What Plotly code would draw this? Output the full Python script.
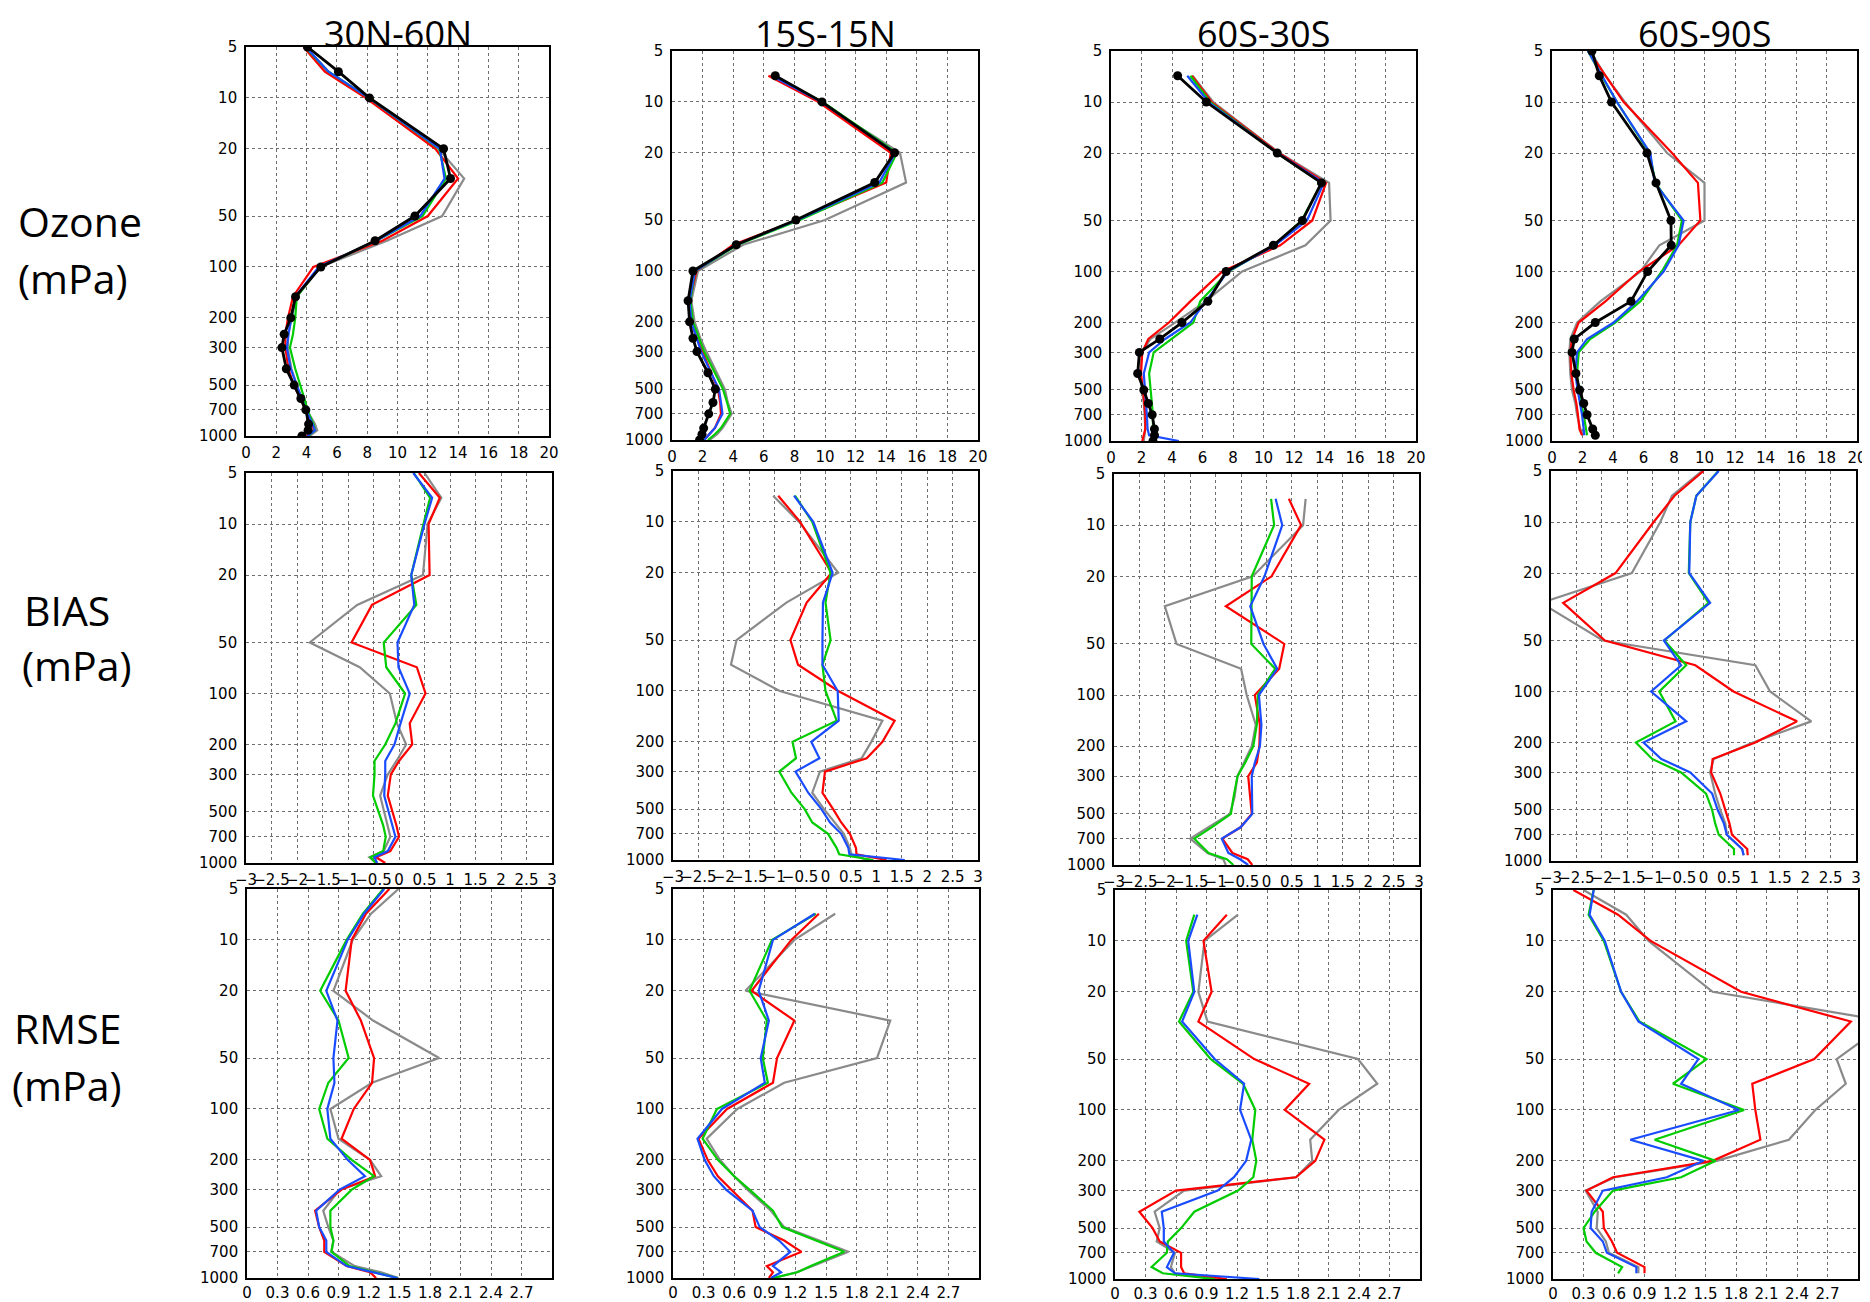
import plotly.graph_objects as go

W, H = 1870, 1302          # reference pixel frame
OFF = 8                    # page body margin
FW, FH = W - OFF, H - OFF  # figure reaches the right/bottom edge of the window

# ---------------- data ----------------
LEV_FULL = [5, 7, 10, 20, 30, 50, 70, 100, 150, 200, 250, 300, 400, 500, 600, 700, 850, 925, 1000]
LEV_FROM7 = LEV_FULL[1:]
LEV_TO925 = LEV_FULL[:-1]

REGIONS = ["30N-60N", "15S-15N", "60S-30S", "60S-90S"]
ROW_LABELS = [("Ozone", "(mPa)"), ("BIAS", "(mPa)"), ("RMSE", "(mPa)")]

OZ_TICKS = [0, 2, 4, 6, 8, 10, 12, 14, 16, 18, 20]
BIAS_TICKS = [-3, -2.5, -2, -1.5, -1, -0.5, 0, 0.5, 1, 1.5, 2, 2.5, 3]
RMSE_TICKS = [0, 0.3, 0.6, 0.9, 1.2, 1.5, 1.8, 2.1, 2.4, 2.7]
P_TICKS = [5, 10, 20, 50, 100, 200, 300, 500, 700, 1000]

# Ozone 30N-60N
OZ1_BLACK = [4.06, 6.1, 8.15, 13.04, 13.5, 11.15, 8.52, 4.94, 3.27, 2.96, 2.52, 2.37, 2.66, 3.18, 3.62, 3.95, 4.13, 4.1, 3.69]
OZ1_RED = [3.8, 5.2, 7.9, 12.5, 14.0, 12.0, 9.0, 4.45, 3.1, 2.77, 2.6, 2.6, 2.8, 3.15, 3.6, 3.9, 4.35, 4.5, 4.0]
OZ1_GREEN = [3.9, 5.45, 8.1, 12.75, 13.2, 11.65, 8.6, 4.85, 3.35, 3.25, 3.1, 2.9, 3.25, 3.6, 3.85, 4.05, 4.45, 4.55, 4.1]
OZ1_BLUE = [3.95, 5.45, 8.1, 12.8, 13.1, 11.5, 8.6, 4.8, 3.25, 3.0, 2.8, 2.7, 2.95, 3.35, 3.7, 3.95, 4.4, 4.55, 4.05]
OZ1_GRAY = [3.9, 5.3, 8.0, 12.7, 14.4, 12.95, 9.3, 4.9, 3.35, 3.0, 2.8, 2.75, 3.0, 3.35, 3.7, 4.0, 4.55, 4.7, 4.2]

# Ozone 15S-15N (from 7 hPa)
OZ2_BLACK = [6.75, 9.8, 14.55, 13.25, 8.1, 4.2, 1.37, 1.05, 1.15, 1.37, 1.63, 2.35, 2.83, 2.68, 2.4, 2.07, 1.96, 1.8]
OZ2_RED = [6.3, 9.55, 14.3, 14.0, 8.2, 4.0, 1.6, 1.15, 1.26, 1.63, 2.0, 2.55, 3.0, 3.15, 3.2, 2.8, 2.45, 2.1]
OZ2_GREEN = [6.6, 9.85, 14.7, 13.75, 8.35, 4.3, 1.5, 1.2, 1.37, 1.8, 2.1, 2.8, 3.33, 3.6, 3.8, 3.2, 2.8, 2.35]
OZ2_BLUE = [6.5, 9.75, 14.6, 13.55, 8.2, 4.2, 1.5, 1.15, 1.26, 1.6, 1.9, 2.55, 3.07, 3.2, 3.3, 2.8, 2.4, 2.1]
OZ2_GRAY = [6.4, 9.65, 14.9, 15.3, 10.0, 4.65, 1.7, 1.26, 1.48, 1.85, 2.25, 2.9, 3.45, 3.65, 3.9, 3.3, 2.95, 2.45]

# Ozone 60S-30S (from 7 hPa)
OZ3_BLACK = [4.37, 6.25, 10.9, 13.8, 12.55, 10.65, 7.55, 6.35, 4.65, 3.2, 1.86, 1.75, 2.15, 2.45, 2.7, 2.85, 2.85, 2.75]
OZ3_RED = [5.3, 6.6, 11.0, 14.1, 13.2, 11.1, 7.3, 5.2, 3.8, 2.45, 2.05, 1.97, 2.1, 2.2, 2.25, 2.25, 2.15, 2.05]
OZ3_GREEN = [5.2, 6.5, 10.9, 13.8, 12.5, 10.7, 7.7, 5.85, 5.4, 4.0, 2.8, 2.5, 2.6, 2.65, 2.75, 2.75, 2.8, 2.75]
OZ3_BLUE = [5.0, 6.4, 10.9, 13.95, 12.85, 10.75, 7.65, 6.2, 5.2, 3.55, 2.5, 2.15, 2.25, 2.3, 2.35, 2.4, 2.5, 4.45]
OZ3_GRAY = [5.35, 6.7, 11.05, 14.3, 14.4, 12.75, 8.6, 6.2, 4.2, 2.6, 2.0, 1.93, 2.03, 2.15, 2.2, 2.25, 2.2, 2.15]

# Ozone 60S-90S (to 925 hPa)
OZ4_BLACK = [2.62, 3.1, 3.9, 6.23, 6.82, 7.8, 7.82, 6.27, 5.18, 2.84, 1.46, 1.31, 1.57, 1.81, 2.08, 2.3, 2.67, 2.84]
OZ4_RED = [2.4, 3.5, 4.7, 7.87, 9.57, 9.73, 8.3, 5.7, 3.5, 1.75, 1.31, 1.2, 1.27, 1.42, 1.6, 1.7, 1.8, 1.97]
OZ4_GREEN = [2.36, 3.24, 4.26, 6.4, 6.78, 8.52, 8.2, 7.2, 5.8, 4.15, 2.5, 1.75, 1.64, 1.75, 1.92, 2.08, 2.23, 2.3]
OZ4_BLUE = [2.36, 3.28, 4.26, 6.45, 6.73, 8.63, 8.3, 7.32, 5.57, 4.04, 2.3, 1.64, 1.53, 1.68, 1.86, 1.97, 2.08, 2.12]
OZ4_GRAY = [2.5, 3.5, 4.77, 7.55, 10.0, 10.0, 7.04, 5.8, 3.17, 1.64, 1.2, 1.14, 1.2, 1.31, 1.53, 1.64, 1.86, 2.08]

# Bias 30N-60N
BI1_RED = [0.39, 0.8, 0.58, 0.6, -0.53, -0.93, 0.35, 0.52, 0.21, 0.26, 0.0, -0.16, -0.22, -0.12, -0.05, 0.0, -0.17, -0.45, -0.27]
BI1_GREEN = [0.29, 0.61, 0.48, 0.24, 0.34, -0.3, -0.25, 0.12, -0.07, -0.27, -0.48, -0.48, -0.51, -0.4, -0.31, -0.26, -0.31, -0.56, -0.46]
BI1_BLUE = [0.28, 0.65, 0.5, 0.24, 0.3, -0.03, -0.01, 0.21, 0.03, -0.09, -0.27, -0.27, -0.29, -0.2, -0.14, -0.07, -0.22, -0.48, -0.43]
BI1_GRAY = [0.5, 0.83, 0.56, 0.47, -0.82, -1.75, -0.77, -0.18, -0.04, 0.14, -0.05, -0.22, -0.37, -0.29, -0.22, -0.17, -0.3, -0.58, -0.43]

# Bias 15S-15N (from 7 hPa)
BI2_RED = [-0.93, -0.5, 0.12, -0.37, -0.69, -0.54, 0.25, 1.36, 1.12, 0.81, -0.01, -0.06, 0.15, 0.31, 0.48, 0.6, 0.61, 1.2]
BI2_GREEN = [-0.6, -0.26, 0.1, 0.0, 0.1, -0.06, 0.0, 0.22, -0.65, -0.58, -0.91, -0.67, -0.41, -0.26, 0.05, 0.22, 0.27, 0.94]
BI2_BLUE = [-0.62, -0.24, 0.14, -0.05, -0.06, -0.06, 0.24, 0.26, -0.28, -0.12, -0.59, -0.34, -0.08, 0.09, 0.31, 0.45, 0.47, 1.56]
BI2_GRAY = [-1.03, -0.52, 0.25, -0.77, -1.75, -1.86, -0.9, 1.12, 0.9, 0.71, -0.11, -0.26, -0.03, 0.18, 0.36, 0.48, 0.51, 0.81]

# Bias 60S-30S (from 7 hPa)
BI3_RED = [0.44, 0.68, 0.1, -0.8, 0.35, 0.25, -0.23, -0.13, -0.14, -0.19, -0.36, -0.32, -0.29, -0.51, -0.87, -0.67, -0.37, -0.28]
BI3_GREEN = [0.09, 0.15, -0.29, -0.3, -0.3, 0.17, -0.17, -0.19, -0.26, -0.42, -0.57, -0.65, -0.7, -1.08, -1.42, -1.14, -0.78, -0.65]
BI3_BLUE = [0.18, 0.31, -0.04, -0.32, -0.06, 0.21, -0.15, -0.1, -0.13, -0.23, -0.29, -0.29, -0.28, -0.51, -0.88, -0.75, -0.52, -0.36]
BI3_GRAY = [0.77, 0.72, -0.27, -2.0, -1.77, -0.5, -0.39, -0.21, -0.29, -0.44, -0.57, -0.63, -0.72, -1.14, -1.5, -1.16, -0.85, -0.8]

# Bias 60S-90S (to 925 hPa)
BI4_RED = [0.0, -0.57, -0.98, -1.73, -2.76, -1.94, -0.16, 0.59, 1.84, 1.02, 0.18, 0.15, 0.33, 0.43, 0.51, 0.56, 0.86, 0.87]
BI4_GREEN = [0.29, -0.14, -0.26, -0.29, 0.1, -0.77, -0.34, -0.87, -0.55, -1.33, -1.01, -0.44, 0.05, 0.17, 0.23, 0.3, 0.6, 0.6]
BI4_BLUE = [0.3, -0.14, -0.26, -0.28, 0.13, -0.78, -0.44, -1.03, -0.34, -1.18, -0.83, -0.26, 0.17, 0.28, 0.4, 0.46, 0.76, 0.79]
BI4_GRAY = [-0.03, -0.62, -0.85, -1.41, -3.2, -1.98, 1.02, 1.31, 2.12, 0.97, 0.2, 0.13, 0.23, 0.33, 0.43, 0.46, 0.76, 0.79]

# RMSE 30N-60N
RM1_RED = [1.4, 1.17, 1.03, 0.97, 1.12, 1.25, 1.23, 1.05, 0.93, 1.21, 1.26, 0.93, 0.67, 0.71, 0.76, 0.76, 0.98, 1.21, 1.27]
RM1_GREEN = [1.34, 1.14, 0.98, 0.72, 0.9, 1.0, 0.8, 0.71, 0.79, 1.03, 1.25, 1.03, 0.82, 0.82, 0.85, 0.83, 1.01, 1.24, 1.48]
RM1_BLUE = [1.35, 1.15, 0.99, 0.78, 0.89, 0.85, 0.86, 0.79, 0.82, 0.99, 1.16, 0.91, 0.68, 0.71, 0.78, 0.78, 0.98, 1.24, 1.48]
RM1_GRAY = [1.49, 1.22, 1.04, 0.85, 1.24, 1.89, 1.23, 0.82, 0.9, 1.21, 1.32, 0.91, 0.75, 0.8, 0.85, 0.83, 1.06, 1.32, 1.49]

# RMSE 15S-15N (from 7 hPa)
RM2_RED = [1.43, 1.16, 0.77, 1.19, 1.02, 0.98, 0.53, 0.25, 0.34, 0.44, 0.57, 0.78, 0.81, 1.09, 1.26, 0.92, 0.98, 0.94]
RM2_GREEN = [1.4, 0.97, 0.75, 0.92, 0.88, 0.93, 0.43, 0.29, 0.44, 0.6, 0.75, 0.98, 1.07, 1.4, 1.68, 1.35, 1.22, 0.98]
RM2_BLUE = [1.39, 0.98, 0.84, 0.94, 0.86, 0.9, 0.48, 0.24, 0.31, 0.4, 0.52, 0.78, 0.85, 1.04, 1.15, 0.98, 1.06, 0.96]
RM2_GRAY = [1.59, 1.19, 0.71, 2.13, 2.0, 1.09, 0.63, 0.33, 0.46, 0.6, 0.73, 0.96, 1.09, 1.43, 1.72, 1.37, 1.21, 0.99]

# RMSE 60S-30S (from 7 hPa)
RM3_RED = [1.1, 0.87, 0.95, 0.82, 1.37, 1.91, 1.67, 2.06, 1.97, 1.78, 0.6, 0.24, 0.37, 0.44, 0.65, 0.65, 0.68, 1.1]
RM3_GREEN = [0.78, 0.7, 0.77, 0.63, 0.94, 1.26, 1.38, 1.35, 1.39, 1.36, 1.21, 0.78, 0.65, 0.52, 0.51, 0.36, 0.47, 0.98]
RM3_BLUE = [0.81, 0.72, 0.78, 0.66, 0.98, 1.27, 1.23, 1.34, 1.29, 1.17, 1.01, 0.46, 0.48, 0.48, 0.58, 0.51, 0.59, 1.42]
RM3_GRAY = [1.21, 0.88, 0.82, 0.91, 2.39, 2.58, 2.2, 1.92, 1.94, 1.78, 0.68, 0.39, 0.44, 0.41, 0.59, 0.55, 0.59, 1.0]

# RMSE 60S-90S (to 925 hPa)
RM4_RED = [0.2, 0.64, 0.96, 1.85, 2.93, 2.57, 1.96, 1.99, 2.04, 1.57, 0.59, 0.33, 0.49, 0.5, 0.58, 0.63, 0.9, 0.9]
RM4_GREEN = [0.4, 0.35, 0.5, 0.67, 0.85, 1.51, 1.18, 1.88, 1.0, 1.6, 1.26, 0.59, 0.41, 0.3, 0.33, 0.42, 0.68, 0.64]
RM4_BLUE = [0.4, 0.36, 0.51, 0.67, 0.84, 1.43, 1.26, 1.83, 0.76, 1.48, 1.12, 0.49, 0.38, 0.37, 0.49, 0.53, 0.82, 0.82]
RM4_GRAY = [0.3, 0.72, 0.94, 1.57, 3.3, 2.79, 2.88, 2.58, 2.32, 1.61, 0.61, 0.32, 0.44, 0.43, 0.52, 0.55, 0.84, 0.84]

# ---------------- styling ----------------
C_RED = "#ff0000"
C_GREEN = "#00cc00"
C_BLUE = "#1a4cff"
C_GRAY = "#8a8a8a"
C_BLACK = "#000000"

# panel boxes in reference pixels (left, top, right, bottom)
BOXES = [
    (246, 47, 549, 436), (672, 51, 978, 440), (1111, 51, 1416, 441), (1552, 51, 1857, 441),
    (246, 473, 552, 863), (673, 471, 978, 860), (1114, 474, 1419, 865), (1551, 471, 1856, 861),
    (247, 889, 552, 1278), (673, 889, 979, 1278), (1115, 890, 1420, 1279), (1553, 890, 1858, 1279),
]

LEVS_BY_COL = [LEV_FULL, LEV_FROM7, LEV_FROM7, LEV_TO925]

PANELS = [
    [OZ1_GRAY, OZ1_RED, OZ1_GREEN, OZ1_BLUE, OZ1_BLACK],
    [OZ2_GRAY, OZ2_RED, OZ2_GREEN, OZ2_BLUE, OZ2_BLACK],
    [OZ3_GRAY, OZ3_RED, OZ3_GREEN, OZ3_BLUE, OZ3_BLACK],
    [OZ4_GRAY, OZ4_RED, OZ4_GREEN, OZ4_BLUE, OZ4_BLACK],
    [BI1_GRAY, BI1_RED, BI1_GREEN, BI1_BLUE],
    [BI2_GRAY, BI2_RED, BI2_GREEN, BI2_BLUE],
    [BI3_GRAY, BI3_RED, BI3_GREEN, BI3_BLUE],
    [BI4_GRAY, BI4_RED, BI4_GREEN, BI4_BLUE],
    [RM1_GRAY, RM1_RED, RM1_GREEN, RM1_BLUE],
    [RM2_GRAY, RM2_RED, RM2_GREEN, RM2_BLUE],
    [RM3_GRAY, RM3_RED, RM3_GREEN, RM3_BLUE],
    [RM4_GRAY, RM4_RED, RM4_GREEN, RM4_BLUE],
]
SERIES_COLORS = [C_GRAY, C_RED, C_GREEN, C_BLUE, C_BLACK]


def px_x(px):
    return (px - OFF) / FW


def px_y(py):
    return 1 - (py - OFF) / FH


def fmt_tick(v):
    return ("%g" % v).replace("-", "\u2212")


ROW_X = [
    dict(range=[0, 20], vals=OZ_TICKS, standoff=2),
    dict(range=[-3, 3], vals=BIAS_TICKS, standoff=2),
    dict(range=[0, 3], vals=RMSE_TICKS, standoff=0),
]

fig = go.Figure()
TICKFONT = dict(family="DejaVu Sans", size=15, color="black")

for i, (box, series) in enumerate(zip(BOXES, PANELS)):
    row, col = divmod(i, 4)
    n = i + 1
    xa = "x" if n == 1 else f"x{n}"
    ya = "y" if n == 1 else f"y{n}"
    levs = LEVS_BY_COL[col]
    for s_idx, vals in enumerate(series):
        color = SERIES_COLORS[s_idx]
        is_obs = color == C_BLACK
        fig.add_trace(go.Scatter(
            x=vals, y=levs[:len(vals)], xaxis=xa, yaxis=ya,
            mode="lines+markers" if is_obs else "lines",
            line=dict(color=color, width=2.8 if is_obs else 2.2),
            marker=dict(color="black", size=9) if is_obs else None,
            showlegend=False, hoverinfo="skip",
        ))
    l, t, r, b = box
    xr = ROW_X[row]
    axis_common = dict(
        showline=True, mirror=True, linecolor="black", linewidth=1.6,
        showgrid=True, gridcolor="#6e6e6e", griddash="dot", gridwidth=1,
        zeroline=False, ticks="", tickfont=TICKFONT, automargin=False,
    )
    fig.layout[("xaxis" if n == 1 else f"xaxis{n}")] = dict(
        domain=[px_x(l), px_x(r)], anchor=ya, range=xr["range"],
        tickmode="array", tickvals=xr["vals"], ticktext=[fmt_tick(v) for v in xr["vals"]],
        tickangle=0, ticklabelstandoff=xr["standoff"], **axis_common,
    )
    fig.layout[("yaxis" if n == 1 else f"yaxis{n}")] = dict(
        domain=[px_y(b), px_y(t)], anchor=xa, type="log",
        range=[3, 0.69897], tickmode="array", tickvals=P_TICKS,
        ticktext=[str(p) for p in P_TICKS], ticklabelstandoff=4, **axis_common,
    )

annotations = []
TITLE_FONT = dict(family="Open Sans", size=36, color="black")
ROW_FONT = dict(family="Open Sans", size=41, color="black")
for col, name in enumerate(REGIONS):
    l, t, r, b = BOXES[col]
    annotations.append(dict(text=name, x=px_x((l + r) / 2), y=1.0, xref="paper", yref="paper",
                            xanchor="center", yanchor="top", borderpad=0,
                            showarrow=False, font=TITLE_FONT))

ROW_LABEL_POS = [((16, 221), (16, 278)), ((22, 610), (20, 665)), ((12, 1028), (10, 1085))]
for (lab1, lab2), ((x1, y1), (x2, y2)) in zip(ROW_LABELS, ROW_LABEL_POS):
    for txt, x, y in ((lab1, x1, y1), (lab2, x2, y2)):
        annotations.append(dict(text=txt, x=px_x(x), y=px_y(y), xref="paper", yref="paper",
                                xanchor="left", yanchor="middle", showarrow=False, font=ROW_FONT))

fig.update_layout(
    template="none",
    width=FW, height=FH, margin=dict(l=0, r=0, t=0, b=0, autoexpand=False),
    paper_bgcolor="white", plot_bgcolor="white",
    annotations=annotations, showlegend=False,
)

fig.write_html("out.html", config={"displayModeBar": False})
